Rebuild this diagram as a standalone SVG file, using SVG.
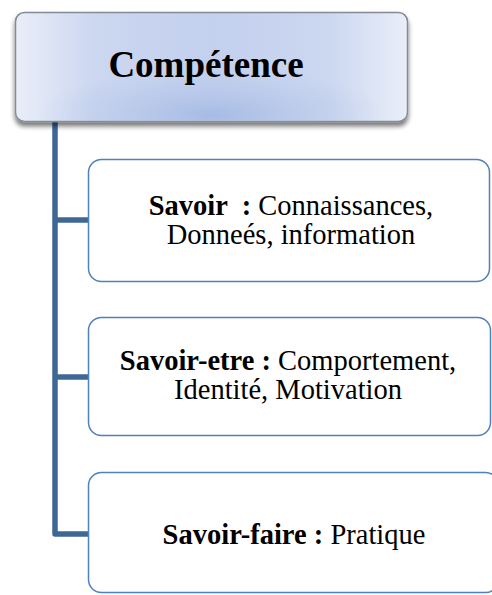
<svg xmlns="http://www.w3.org/2000/svg" width="492" height="595" viewBox="0 0 492 595">
<style>
.t{font-family:"Liberation Serif","Times New Roman",serif;fill:#000;text-anchor:middle;font-size:28.5px}
.b{font-weight:bold}
.box{fill:#fff;stroke:#4f81bd;stroke-width:1.5}
.conn{fill:none;stroke:#3f6796;stroke-width:5.5;stroke-linejoin:round}
</style>
<defs>
<linearGradient id="gl" x1="0" y1="0" x2="1" y2="0">
<stop offset="0" stop-color="#e9eef8"/>
<stop offset="0.2" stop-color="#ccd7f0"/>
<stop offset="0.5" stop-color="#c3d0ee"/>
<stop offset="0.8" stop-color="#ccd7f0"/>
<stop offset="1" stop-color="#e9eef8"/>
</linearGradient>
<radialGradient id="g" cx="50%" cy="95%" r="45%">
<stop offset="0" stop-color="#a6bbe4" stop-opacity="1"/>
<stop offset="1" stop-color="#b9c9ea" stop-opacity="0"/>
</radialGradient>
<filter id="sh" x="-10%" y="-10%" width="120%" height="130%">
<feGaussianBlur in="SourceAlpha" stdDeviation="2.5"/>
<feOffset dx="0" dy="4" result="o"/>
<feComponentTransfer><feFuncA type="linear" slope="0.55"/></feComponentTransfer>
<feMerge><feMergeNode/><feMergeNode in="SourceGraphic"/></feMerge>
</filter>
</defs>
<g id="connectors">
<path class="conn" d="M55 122 V534 H89"/>
<path class="conn" d="M55 220 H89"/>
<path class="conn" d="M55 377 H89"/>
</g>
<g id="competence">
<rect x="15.5" y="12.5" width="392" height="109" rx="9" fill="url(#gl)" stroke="#858b94" stroke-width="1.5" filter="url(#sh)"/>
<rect x="16.5" y="13.5" width="390" height="107" rx="8" fill="url(#g)"/>
<text class="t b" x="206" y="77" style="font-size:37px">Compétence</text>
</g>
<g id="savoir">
<rect class="box" x="88.5" y="159.5" width="401" height="122" rx="13"/>
<text class="t" x="291" y="215"><tspan class="b">Savoir &#160;:</tspan> Connaissances,</text>
<text class="t" x="291" y="244">Donneés, information</text>
</g>
<g id="savoir-etre">
<rect class="box" x="88.5" y="317.5" width="402" height="118" rx="13"/>
<text class="t" x="288" y="370"><tspan class="b">Savoir-etre :</tspan> Comportement,</text>
<text class="t" x="288" y="399">Identité, Motivation</text>
</g>
<g id="savoir-faire">
<rect class="box" x="88.5" y="472.5" width="410" height="120" rx="13"/>
<text class="t" x="294" y="544"><tspan class="b">Savoir-faire :</tspan> Pratique</text>
</g>
</svg>
